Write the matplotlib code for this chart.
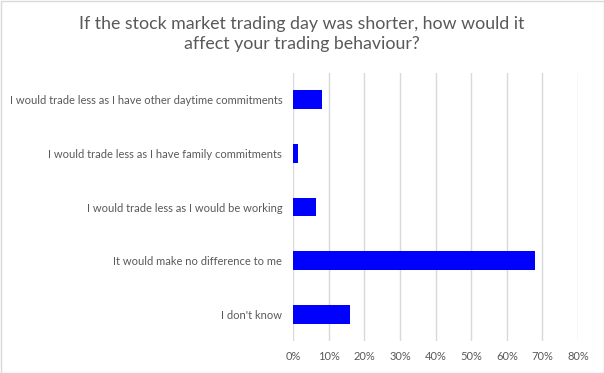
import matplotlib
matplotlib.use("Agg")
import matplotlib.pyplot as plt
from matplotlib.ticker import PercentFormatter, MultipleLocator
from matplotlib.patches import Rectangle

categories = [
    "I would trade less as I have other daytime commitments",
    "I would trade less as I have family commitments",
    "I would trade less as I would be working",
    "It would make no difference to me",
    "I don't know",
]
values = [8, 1.2, 6.3, 68, 16]
title = "If the stock market trading day was shorter, how would it\naffect your trading behaviour?"

plt.rcParams['font.family'] = ['Lato', 'DejaVu Sans']
W, H = 604, 373
fig = plt.figure(figsize=(W / 100, H / 100), dpi=100)
ax = fig.add_axes([293.3 / W, 1 - 341.4 / H, (578 - 293.3) / W, (341.4 - 72.6) / H])

y = list(range(len(categories)))
ax.barh(y, values, height=0.35, color="#0000FF", zorder=3)
ax.set_yticks(y)
ax.set_yticklabels(categories)
ax.set_ylim(len(categories) - 0.5, -0.5)
ax.set_xlim(0, 80)
ax.xaxis.set_major_locator(MultipleLocator(10))
ax.xaxis.set_major_formatter(PercentFormatter(decimals=0))
ax.grid(axis="x", color="#D9D9D9", linewidth=1, zorder=0)
for s in ax.spines.values():
    s.set_visible(False)
ax.tick_params(axis="both", length=0, labelsize=8, labelcolor="#595959")
ax.tick_params(axis="y", pad=8)
ax.tick_params(axis="x", pad=7)

fig.text(0.5, 1 - 34 / H, title, ha="center", va="center", fontsize=12.8,
         color="#595959", linespacing=1.35)
fig.patches.append(Rectangle((0.5 / W, 0.5 / H), 1 - 1 / W, 1 - 1 / H, transform=fig.transFigure,
                             fill=False, edgecolor="#D9D9D9", linewidth=1))
fig.savefig("out.png", dpi=100)
